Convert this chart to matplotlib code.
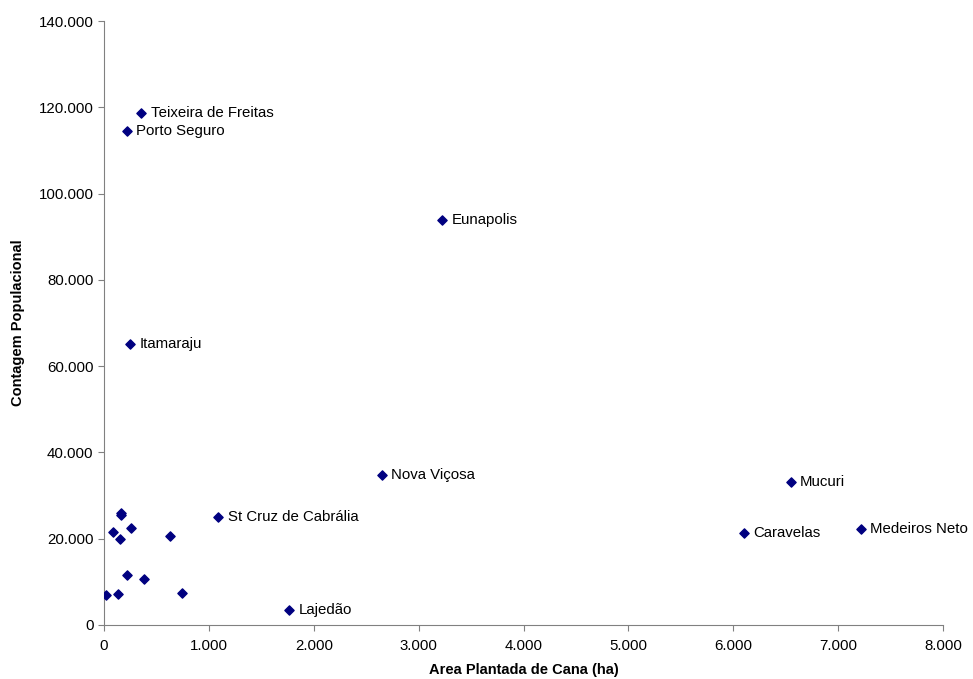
import matplotlib
matplotlib.use('Agg')
import matplotlib.pyplot as plt
from matplotlib.ticker import FuncFormatter

plt.rcParams['font.family'] = ['Liberation Sans', 'DejaVu Sans']

# area plantada (ha), populacao
area = [16, 131, 220, 381, 744, 90, 150, 159, 165, 261, 629,
        1090, 1761, 351, 217, 3220, 246, 2647, 6546, 6098, 7214]
pop = [7040, 7100, 11500, 10580, 7500, 21530, 19840, 25500, 25900, 22550, 20600,
       25090, 3470, 118680, 114500, 93870, 65210, 34880, 33260, 21220, 22150]
names = ['', '', '', '', '', '', '', '', '', '', '',
         'St Cruz de Cabrália', 'Lajedão', 'Teixeira de Freitas', 'Porto Seguro',
         'Eunapolis', 'Itamaraju', 'Nova Viçosa', 'Mucuri', 'Caravelas', 'Medeiros Neto']

x_ticks = [0, 1000, 2000, 3000, 4000, 5000, 6000, 7000, 8000]
y_ticks = [0, 20000, 40000, 60000, 80000, 100000, 120000, 140000]


def milhar(v, pos):
    return f'{int(v):,}'.replace(',', '.')


fig = plt.figure(figsize=(9.73, 6.79), dpi=100)
ax = fig.add_axes([104 / 973, 54 / 679, 839 / 973, 604 / 679])

ax.scatter(area, pop, marker='D', s=22, color='#000080', zorder=3)
for x, y, n in zip(area, pop, names):
    if n:
        ax.annotate(n, (x, y), xytext=(7, 0), textcoords='offset points',
                    va='center', ha='left', fontsize=10.8)

ax.set_xlim(0, 8000)
ax.set_ylim(0, 140000)
ax.set_xticks(x_ticks)
ax.set_yticks(y_ticks)
ax.xaxis.set_major_formatter(FuncFormatter(milhar))
ax.yaxis.set_major_formatter(FuncFormatter(milhar))
ax.tick_params(labelsize=10.8, length=4, direction='out', color='#808080')
ax.tick_params(axis='x', pad=6)
for s in ['top', 'right']:
    ax.spines[s].set_visible(False)
for s in ['left', 'bottom']:
    ax.spines[s].set_color('#808080')

ax.set_xlabel('Area Plantada de Cana (ha)', fontsize=10.5, fontweight='bold', labelpad=7)
ax.set_ylabel('Contagem Populacional', fontsize=10.5, fontweight='bold', labelpad=10)

fig.savefig('out.png', dpi=100)
